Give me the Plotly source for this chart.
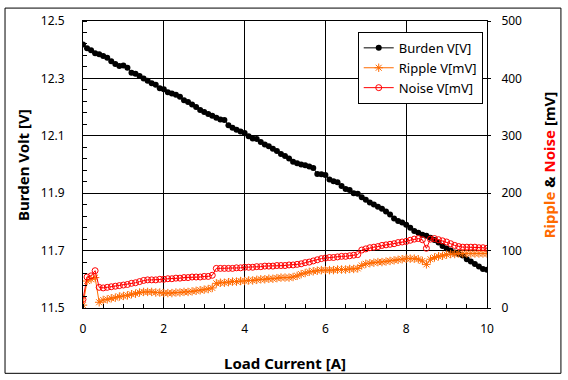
import plotly.graph_objects as go

load_current = [
    0.0, 0.1, 0.2, 0.3, 0.4, 0.5, 0.6, 0.7, 0.8, 0.9,
    1.0, 1.1, 1.2, 1.3, 1.4, 1.5, 1.6, 1.7, 1.8, 1.9,
    2.0, 2.1, 2.2, 2.3, 2.4, 2.5, 2.6, 2.7, 2.8, 2.9,
    3.0, 3.1, 3.2, 3.3, 3.4, 3.5, 3.6, 3.7, 3.8, 3.9,
    4.0, 4.1, 4.2, 4.3, 4.4, 4.5, 4.6, 4.7, 4.8, 4.9,
    5.0, 5.1, 5.2, 5.3, 5.4, 5.5, 5.6, 5.7, 5.8, 5.9,
    6.0, 6.1, 6.2, 6.3, 6.4, 6.5, 6.6, 6.7, 6.8, 6.9,
    7.0, 7.1, 7.2, 7.3, 7.4, 7.5, 7.6, 7.7, 7.8, 7.9,
    8.0, 8.1, 8.2, 8.3, 8.4, 8.5, 8.6, 8.7, 8.8, 8.9,
    9.0, 9.1, 9.2, 9.3, 9.4, 9.5, 9.6, 9.7, 9.8, 9.9,
    10.0,
]

burden_v = [
    12.418, 12.405, 12.398, 12.388, 12.384, 12.378, 12.372, 12.360, 12.350, 12.343,
    12.345, 12.337, 12.320, 12.316, 12.308, 12.300, 12.292, 12.283, 12.278, 12.266,
    12.262, 12.252, 12.247, 12.243, 12.236, 12.224, 12.218, 12.209, 12.200, 12.190,
    12.183, 12.176, 12.170, 12.163, 12.157, 12.155, 12.137, 12.128, 12.121, 12.115,
    12.110, 12.098, 12.091, 12.089, 12.078, 12.070, 12.064, 12.055, 12.047, 12.037,
    12.030, 12.021, 12.010, 12.004, 12.000, 11.997, 11.993, 11.988, 11.967, 11.966,
    11.963, 11.948, 11.942, 11.938, 11.925, 11.915, 11.911, 11.900, 11.898, 11.886,
    11.877, 11.868, 11.861, 11.853, 11.846, 11.836, 11.826, 11.812, 11.803, 11.798,
    11.790, 11.780, 11.768, 11.762, 11.755, 11.752, 11.745, 11.737, 11.728, 11.716,
    11.707, 11.700, 11.693, 11.688, 11.683, 11.670, 11.662, 11.653, 11.645, 11.636,
    11.633,
]

ripple_mv = [
    5, 47, 50, 53, 10, 14, 15, 17, 18, 20,
    21, 22, 24, 25, 27, 28, 28, 28, 27, 27,
    26, 26, 26, 27, 27, 28, 28, 29, 30, 31,
    32, 33, 35, 43, 44, 44, 45, 46, 46, 47,
    47, 48, 48, 49, 50, 50, 51, 51, 52, 53,
    53, 53, 54, 56, 59, 61, 63, 64, 65, 66,
    66, 66, 66, 67, 67, 67, 68, 68, 69, 74,
    77, 78, 79, 80, 80, 81, 82, 83, 84, 85,
    86, 86, 86, 85, 82, 76, 85, 88, 90, 91,
    93, 94, 94, 95, 95, 95, 95, 95, 95, 95,
    95,
]

noise_mv = [
    15, 54, 56, 65, 36, 35, 36, 37, 38, 39,
    40, 41, 43, 44, 46, 48, 49, 49, 49, 50,
    50, 51, 51, 52, 52, 53, 53, 54, 54, 54,
    55, 55, 57, 69, 69, 69, 69, 69, 70, 70,
    71, 71, 71, 72, 72, 73, 73, 73, 74, 74,
    74, 75, 75, 76, 77, 79, 80, 82, 84, 86,
    87, 88, 88, 89, 90, 90, 91, 92, 93, 101,
    103, 105, 106, 107, 109, 110, 111, 112, 114, 115,
    116, 118, 120, 121, 119, 104, 120, 121, 119, 117,
    115, 112, 109, 107, 106, 106, 106, 106, 105, 105,
    104,
]

x_ticks = [0, 2, 4, 6, 8, 10]
left_ticks = [11.5, 11.7, 11.9, 12.1, 12.3, 12.5]
right_ticks = [0, 100, 200, 300, 400, 500]

ORANGE = "#FF6A00"
RED = "#FF0000"
FONT = "Noto Sans"

fig = go.Figure()
fig.add_trace(go.Scatter(
    x=load_current, y=burden_v, name="Burden V[V]", mode="lines+markers",
    line=dict(color="black", width=1),
    marker=dict(symbol="circle", size=6, color="black"),
    yaxis="y",
))
fig.add_trace(go.Scatter(
    x=load_current, y=ripple_mv, name="Ripple V[mV]", mode="lines+markers",
    line=dict(color=ORANGE, width=1),
    marker=dict(symbol="asterisk-open", size=7, color=ORANGE,
                line=dict(color=ORANGE, width=1)),
    yaxis="y2",
))
fig.add_trace(go.Scatter(
    x=load_current, y=noise_mv, name="Noise V[mV]", mode="lines+markers",
    line=dict(color=RED, width=1),
    marker=dict(symbol="circle-open", size=6, color=RED,
                line=dict(color=RED, width=1)),
    yaxis="y2",
))

axis_font = dict(family=FONT, size=12, color="black")

fig.update_layout(
    width=568, height=380,
    margin=dict(l=83, r=81, t=18, b=72, pad=0),
    paper_bgcolor="white", plot_bgcolor="white",
    font=dict(family=FONT, color="black"),
    showlegend=True,
    legend=dict(
        x=0.68, y=0.962, xanchor="left", yanchor="top",
        bgcolor="white", bordercolor="black", borderwidth=1,
        font=dict(family=FONT, size=13, color="black"),
        tracegroupgap=0, itemsizing="trace",
    ),
    xaxis=dict(
        range=[0, 10], tickvals=x_ticks, ticktext=[str(v) for v in x_ticks],
        showgrid=True, gridcolor="black", gridwidth=1,
        showline=True, linecolor="black", linewidth=1, mirror=True,
        ticks="", zeroline=False, tickfont=axis_font, ticklabelstandoff=10,
        minor=dict(dtick=0.5, tick0=0, ticks="inside", ticklen=4,
                   tickcolor="black", showgrid=False),
    ),
    yaxis=dict(
        range=[11.5, 12.5], tickvals=left_ticks,
        ticktext=[f"{v:.1f}" for v in left_ticks],
        showgrid=True, gridcolor="black", gridwidth=1,
        showline=True, linecolor="black", linewidth=1, mirror=True,
        ticks="", zeroline=False, tickfont=axis_font, ticklabelstandoff=15,
        minor=dict(dtick=0.04, tick0=11.5, ticks="inside", ticklen=4,
                   tickcolor="black", showgrid=False),
    ),
    yaxis2=dict(
        range=[0, 500], tickvals=right_ticks,
        ticktext=[str(v) for v in right_ticks],
        overlaying="y", side="right", showgrid=False,
        showline=True, linecolor="black", linewidth=1,
        ticks="outside", ticklen=3, tickcolor="black",
        zeroline=False, tickfont=axis_font, ticklabelstandoff=8,
    ),
    shapes=[dict(
        type="rect", xref="paper", yref="paper",
        x0=-0.193, x1=1.183, y0=-0.2276, y1=1.045,
        line=dict(color="black", width=1), fillcolor="rgba(0,0,0,0)",
        layer="below",
    )],
    annotations=[
        dict(text="<b>Load Current [A]</b>", xref="paper", yref="paper",
             x=0.5, y=-0.193, xanchor="center", yanchor="middle",
             showarrow=False, font=dict(family=FONT, size=15, color="black")),
        dict(text="<b>Burden Volt [V]</b>", xref="paper", yref="paper",
             x=-0.15, y=0.5, xanchor="center", yanchor="middle", textangle=-90,
             showarrow=False, font=dict(family=FONT, size=15, color="black")),
        dict(text=("<b><span style='color:" + ORANGE + "'>Ripple</span> &amp; "
                   "<span style='color:" + RED + "'>Noise</span> [mV]</b>"),
             xref="paper", yref="paper",
             x=1.153, y=0.5, xanchor="center", yanchor="middle", textangle=-90,
             showarrow=False, font=dict(family=FONT, size=15, color="black")),
    ],
)

fig.write_html("out.html")
